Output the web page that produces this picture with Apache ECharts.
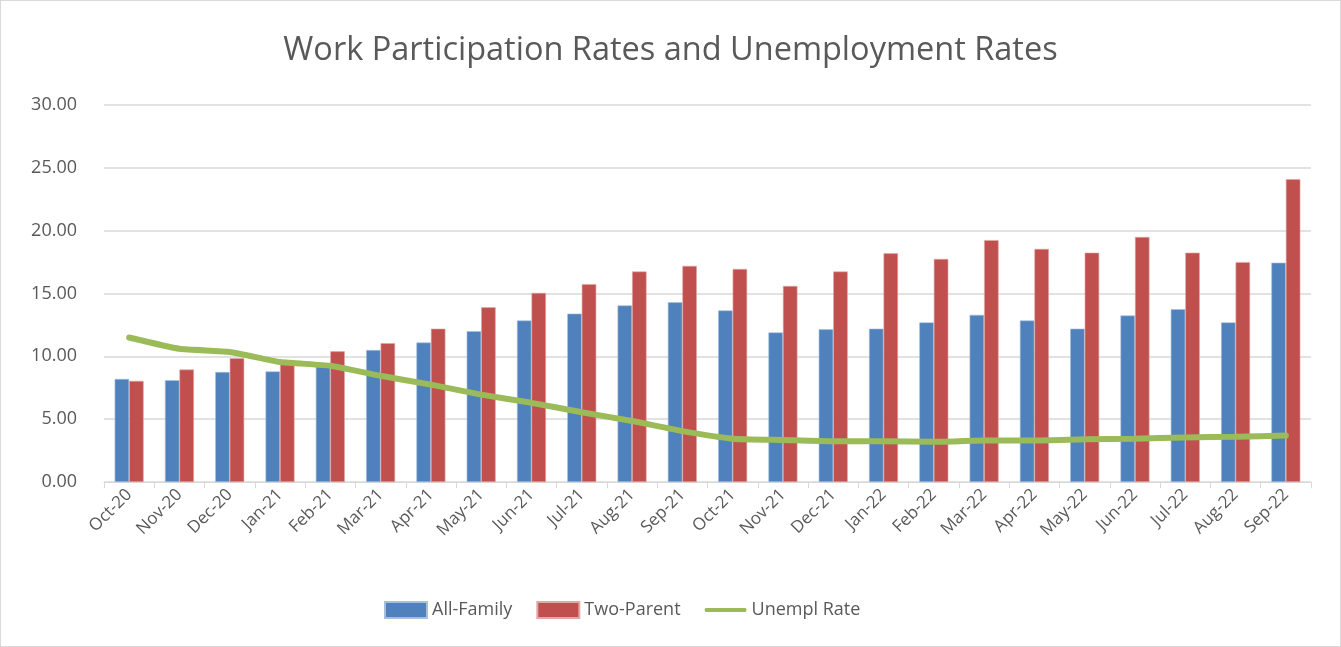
<!DOCTYPE html>
<html>
<head>
<meta charset="utf-8">
<script src="https://cdn.jsdelivr.net/npm/echarts@6/dist/echarts.min.js"></script>
<style>
  html, body { margin: 0; padding: 0; background: #fff; }
  #chart { width: 1341px; height: 647px; box-sizing: border-box; border: 1px solid #d9d9d9; }
</style>
</head>
<body>
<div id="chart"></div>
<script>
const months = ['Oct-20', 'Nov-20', 'Dec-20', 'Jan-21', 'Feb-21', 'Mar-21', 'Apr-21', 'May-21',
  'Jun-21', 'Jul-21', 'Aug-21', 'Sep-21', 'Oct-21', 'Nov-21', 'Dec-21', 'Jan-22',
  'Feb-22', 'Mar-22', 'Apr-22', 'May-22', 'Jun-22', 'Jul-22', 'Aug-22', 'Sep-22']
const allFamily = [8.2, 8.1, 8.75, 8.8, 9.2, 10.5, 11.1, 12.0,
  12.85, 13.4, 14.05, 14.3, 13.65, 11.9, 12.15, 12.2,
  12.7, 13.3, 12.85, 12.2, 13.25, 13.75, 12.7, 17.45]
const twoParent = [8.05, 8.95, 9.85, 9.7, 10.4, 11.05, 12.2, 13.9,
  15.05, 15.75, 16.75, 17.2, 16.95, 15.6, 16.75, 18.2,
  17.75, 19.25, 18.55, 18.25, 19.5, 18.25, 17.5, 24.1]
const unemplRate = [11.5, 10.6, 10.35, 9.55, 9.25, 8.45, 7.75, 6.95,
  6.3, 5.55, 4.85, 4.05, 3.45, 3.35, 3.25, 3.25,
  3.2, 3.3, 3.3, 3.4, 3.45, 3.55, 3.6, 3.7]
const yTicks = [0, 5, 10, 15, 20, 25, 30]

let chart = echarts.init(document.getElementById('chart'))
const txt = '#595959'
const fnt = '"Open Sans", "Noto Sans", sans-serif'
// thick line icon for the legend, padded so it sits in the middle of the box
const lineIcon = 'path://M0,0 M42,16 M1,6 L41,6 Q43,8 41,10 L1,10 Q-1,8 1,6 Z'

option = {
  animation: false,
  textStyle: { fontFamily: fnt },
  title: {
    text: 'Work Participation Rates and Unemployment Rates',
    left: 'center',
    top: 28,
    textStyle: { fontSize: 32.5, fontWeight: 'normal', color: txt, fontFamily: fnt }
  },
  legend: {
    bottom: 22,
    left: 378,
    itemWidth: 42,
    itemHeight: 16,
    itemGap: 24,
    textStyle: { fontSize: 18, color: txt },
    data: [
      { name: 'All-Family', icon: 'rect' },
      { name: 'Two-Parent', icon: 'rect' },
      { name: 'Unempl Rate', icon: lineIcon }
    ]
  },
  grid: { left: 103, right: 29, top: 104, bottom: 164 },
  xAxis: {
    type: 'category',
    data: months,
    axisLine: { lineStyle: { color: '#d9d9d9', width: 1 } },
    axisTick: { show: true, length: 6, lineStyle: { color: '#d9d9d9' } },
    axisLabel: { rotate: 45, fontSize: 17, color: txt, margin: 10 }
  },
  yAxis: {
    type: 'value',
    min: yTicks[0],
    max: yTicks[yTicks.length - 1],
    interval: 5,
    axisLine: { show: false },
    axisTick: { show: false },
    splitLine: { lineStyle: { color: '#d9d9d9', width: 1.5 } },
    axisLabel: {
      fontSize: 18, color: txt, margin: 27,
      formatter: v => v.toFixed(2)
    }
  },
  series: [
    {
      name: 'All-Family', type: 'bar', data: allFamily,
      barWidth: 14.5, barGap: '0%',
      itemStyle: { color: '#4f81bd', borderColor: '#a7bfdd', borderWidth: 0.6 }
    },
    {
      name: 'Two-Parent', type: 'bar', data: twoParent,
      barWidth: 14.5, barGap: '0%',
      itemStyle: { color: '#c0504d', borderColor: '#e0a8a6', borderWidth: 0.6 }
    },
    {
      name: 'Unempl Rate', type: 'line', data: unemplRate,
      symbol: 'none', smooth: 0.15,
      lineStyle: { color: '#9bbb59', width: 6, cap: 'round' },
      itemStyle: { color: '#9bbb59' }
    }
  ]
}
chart.setOption(option)
</script>
</body>
</html>
